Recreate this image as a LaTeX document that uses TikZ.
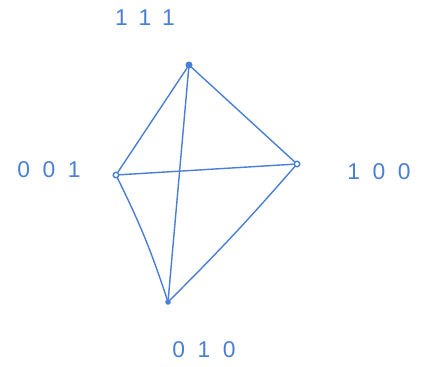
\documentclass[tikz,border=0pt]{standalone}
\usepackage{fontspec}
\setmainfont{Liberation Sans}
\usetikzlibrary{positioning,calc}
\definecolor{tinta}{HTML}{4A7FD6}
\definecolor{fondo}{HTML}{FFFFFF}

\begin{document}
\begin{tikzpicture}[x=0.02cm, y=-0.02cm,
  vert/.style={circle, draw=tinta, line width=0.8pt, inner sep=0pt, minimum size=0.11cm},
  lleno/.style={vert, fill=tinta},
  etiq/.style={text=tinta, font=\fontsize{13}{13}\selectfont\addfontfeature{LetterSpace=55}\mdseries, inner sep=0pt},
  arista/.style={draw=tinta, line width=0.8pt, line cap=round}]
\useasboundingbox[fill=fondo] (0,0) rectangle (422,366);

% ================= vertices =================
\node[lleno] (v111) at (189,65) {};
\node[vert]  (v001) at (116,175) {};
\node[vert]  (v100) at (297,164) {};
\node[lleno, minimum size=0.08cm] (v010) at (168,302) {};

% ================= etiquetas =================
\node[etiq] (l111) at (145,18) {111};
\node[etiq] (l001) at (49,170) {001};
\node[etiq] (l100) at (379,172) {100};
\node[etiq] (l010) at (204,350) {010};

% ================= aristas (K4) =================
\draw[arista] (v111) -- (v001);
\draw[arista] (v111) -- (v100);
\draw[arista] (v111) -- (v010);
\draw[arista] (v001) -- (v100);
\draw[arista] (v001) to[bend left=4] (v010);
\draw[arista] (v100) to[bend left=2] (v010);
\end{tikzpicture}
\end{document}
